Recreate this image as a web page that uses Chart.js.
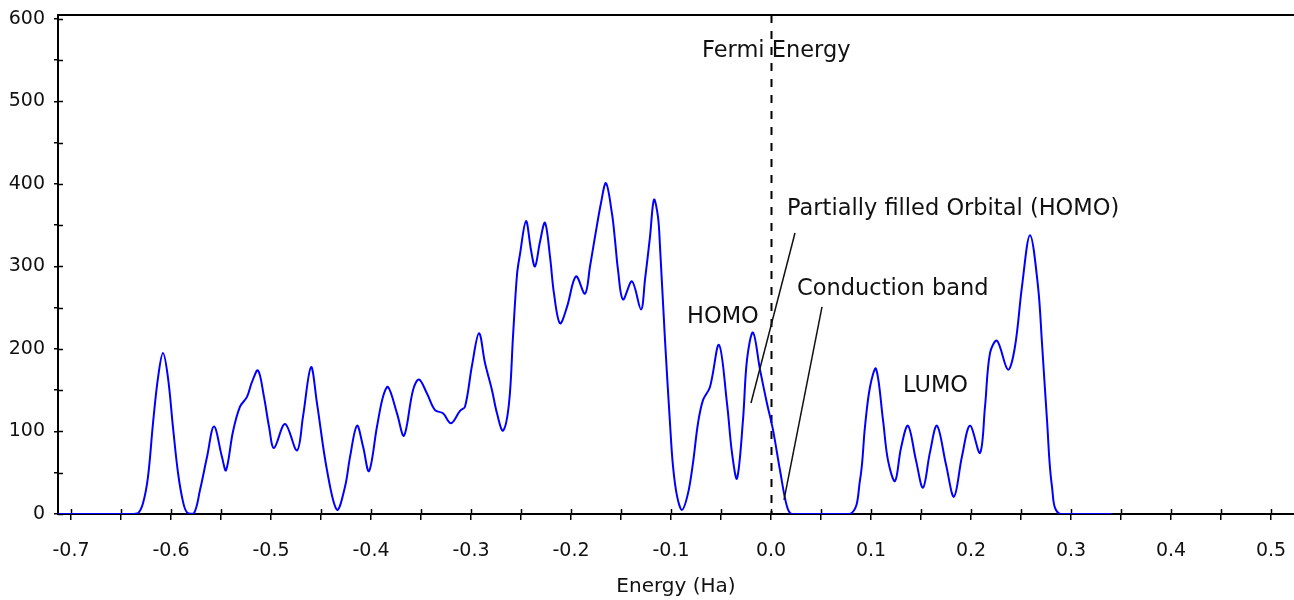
<!DOCTYPE html>
<html>
<head>
<meta charset="utf-8">
<script src="https://cdn.jsdelivr.net/npm/chart.js@4.4.1/dist/chart.umd.min.js"></script>
<style>
  html, body { margin: 0; padding: 0; background: #fff; }
  #wrap { width: 1294px; height: 600px; position: relative; }
</style>
</head>
<body>
<div id="wrap"><canvas id="dos"></canvas></div>
<script>
// Density of states: energy (Ha) and DOS
const energy = [
  -0.713, -0.640, -0.633, -0.628, -0.623, -0.618, -0.613, -0.608, -0.603, -0.598,
  -0.593, -0.588, -0.584, -0.577, -0.571, -0.564, -0.557, -0.549, -0.545, -0.538,
  -0.531, -0.524, -0.519, -0.513, -0.507, -0.502, -0.497, -0.486, -0.474, -0.468,
  -0.460, -0.454, -0.444, -0.434, -0.426, -0.421, -0.414, -0.408, -0.402, -0.394,
  -0.388, -0.383, -0.374, -0.367, -0.358, -0.352, -0.344, -0.336, -0.328, -0.320,
  -0.311, -0.306, -0.299, -0.292, -0.286, -0.279, -0.274, -0.268, -0.262, -0.258,
  -0.254, -0.251, -0.245, -0.240, -0.236, -0.231, -0.226, -0.221, -0.217, -0.211,
  -0.204, -0.195, -0.186, -0.181, -0.176, -0.170, -0.165, -0.159, -0.156, -0.153,
  -0.148, -0.139, -0.130, -0.126, -0.121, -0.117, -0.113, -0.111, -0.106, -0.101,
  -0.098, -0.094, -0.089, -0.083, -0.078, -0.073, -0.068, -0.061, -0.052, -0.044,
  -0.039, -0.034, -0.028, -0.024, -0.018, -0.011, -0.004, 0.002, 0.009, 0.016,
  0.021, 0.079, 0.089, 0.094, 0.099, 0.105, 0.112, 0.117, 0.124, 0.130,
  0.137, 0.145, 0.152, 0.159, 0.166, 0.175, 0.183, 0.191, 0.199, 0.209,
  0.214, 0.219, 0.226, 0.237, 0.244, 0.251, 0.259, 0.267, 0.271, 0.276,
  0.281, 0.289, 0.341
]
const dos = [
  0, 0, 1, 13, 45, 110, 165, 195, 165, 105,
  50, 15, 2, 1, 29, 69, 106, 69, 53, 100,
  130, 142, 160, 174, 142, 106, 80, 109, 77, 118,
  178, 134, 53, 5, 33, 69, 107, 82, 52, 106,
  142, 154, 122, 95, 150, 163, 146, 126, 122, 110,
  125, 130, 180, 219, 183, 150, 122, 101, 134, 215,
  290, 315, 355, 320, 300, 330, 353, 312, 267, 231,
  251, 288, 267, 300, 336, 377, 401, 364, 332, 296,
  260, 282, 248, 284, 336, 381, 360, 324, 211, 110,
  58, 22, 5, 25, 62, 110, 138, 154, 205, 134,
  74, 43, 114, 187, 220, 175, 134, 102, 53, 9,
  0, 0, 41, 106, 154, 176, 114, 65, 40, 80,
  107, 65, 32, 75, 107, 60, 21, 70, 107, 74,
  130, 195, 210, 175, 203, 276, 338, 276, 207, 114,
  33, 0, 0
]

const xTicks = [-0.7, -0.65, -0.6, -0.55, -0.5, -0.45, -0.4, -0.35, -0.3, -0.25, -0.2, -0.15, -0.1, -0.05,
  0, 0.05, 0.1, 0.15, 0.2, 0.25, 0.3, 0.35, 0.4, 0.45, 0.5]
const xMajor = [-0.7, -0.6, -0.5, -0.4, -0.3, -0.2, -0.1, 0, 0.1, 0.2, 0.3, 0.4, 0.5]
const xTickLabels = ['-0.7', '-0.6', '-0.5', '-0.4', '-0.3', '-0.2', '-0.1', '0.0', '0.1', '0.2', '0.3', '0.4', '0.5']
const yTicks = [0, 50, 100, 150, 200, 250, 300, 350, 400, 450, 500, 550, 600]
const yMajor = [0, 100, 200, 300, 400, 500, 600]
const yTickLabels = ['0', '100', '200', '300', '400', '500', '600']

const fermiEnergy = 0.0

// text notes and leader lines, in data units
const notes = [
  { text: 'Fermi Energy', x: -0.069, y: 554 },
  { text: 'Partially filled Orbital (HOMO)', x: 0.016, y: 362 },
  { text: 'Conduction band', x: 0.026, y: 265 },
  { text: 'HOMO', x: -0.084, y: 231.5 },
  { text: 'LUMO', x: 0.132, y: 148 }
]
const leaders = [
  [0.024, 340.6, -0.020, 134.5],
  [0.051, 251, 0.013, 17]
]

const font = 'DejaVu Sans'
const ink = '#111'

function labelFor (list, labels, v) {
  const k = list.findIndex(t => Math.abs(t - v) < 1e-9)
  return k >= 0 ? labels[k] : ''
}

const frame = {
  id: 'frame',
  beforeDatasetsDraw (chart) {
    const { ctx, chartArea: a, scales: { x, y } } = chart
    ctx.save()
    ctx.strokeStyle = '#000'
    ctx.lineWidth = 2
    ctx.beginPath()
    ctx.moveTo(a.left, a.top)
    ctx.lineTo(a.right, a.top)
    ctx.stroke()

    // tick marks cross the axis: draw the inner half
    ctx.lineWidth = 1.5
    ctx.beginPath()
    x.ticks.forEach(t => {
      const px = Math.round(x.getPixelForValue(t.value)) + 0.5
      ctx.moveTo(px, a.bottom)
      ctx.lineTo(px, a.bottom - 5)
    })
    y.ticks.forEach(t => {
      const py = Math.round(y.getPixelForValue(t.value)) + 0.5
      ctx.moveTo(a.left, py)
      ctx.lineTo(a.left + 5, py)
    })
    ctx.stroke()

    // Fermi level
    const fx = Math.round(x.getPixelForValue(fermiEnergy)) + 0.5
    ctx.lineWidth = 2
    ctx.setLineDash([8, 8])
    ctx.beginPath()
    ctx.moveTo(fx, a.top)
    ctx.lineTo(fx, a.bottom)
    ctx.stroke()
    ctx.restore()
  },
  afterDatasetsDraw (chart) {
    const { ctx, scales: { x, y } } = chart
    ctx.save()
    ctx.strokeStyle = ink
    ctx.lineWidth = 1.5
    leaders.forEach(([x1, y1, x2, y2]) => {
      ctx.beginPath()
      ctx.moveTo(x.getPixelForValue(x1), y.getPixelForValue(y1))
      ctx.lineTo(x.getPixelForValue(x2), y.getPixelForValue(y2))
      ctx.stroke()
    })
    ctx.fillStyle = ink
    ctx.font = '22.5px "' + font + '"'
    ctx.textAlign = 'left'
    ctx.textBaseline = 'alphabetic'
    notes.forEach(n => {
      ctx.fillText(n.text, x.getPixelForValue(n.x), y.getPixelForValue(n.y))
    })
    ctx.restore()
  }
}

const ctx = document.getElementById('dos').getContext('2d')
const chart = new Chart(ctx, {
  type: 'line',
  data: {
    datasets: [{
      data: energy.map((e, i) => ({ x: e, y: dos[i] })),
      borderColor: '#0000ff',
      borderWidth: 2,
      pointRadius: 0,
      fill: false,
      tension: 0.35
    }]
  },
  options: {
    responsive: true,
    maintainAspectRatio: false,
    animation: false,
    layout: { padding: { top: 15, right: 0, left: 0, bottom: 0 } },
    plugins: { legend: { display: false }, tooltip: { enabled: false } },
    scales: {
      x: {
        type: 'linear',
        min: -0.713,
        max: 0.523,
        afterBuildTicks: s => { s.ticks = xTicks.map(v => ({ value: v })) },
        afterFit: s => { s.height = 86; s.paddingLeft = 0; s.paddingRight = 0 },
        grid: { display: true, drawOnChartArea: false, drawTicks: true, tickLength: 6, color: '#000', lineWidth: 1.5 },
        border: { display: true, color: '#000', width: 2 },
        ticks: {
          autoSkip: false,
          maxRotation: 0,
          padding: 20,
          color: ink,
          font: { family: font, size: 19 },
          callback: v => labelFor(xMajor, xTickLabels, v)
        },
        title: {
          display: true,
          text: 'Energy (Ha)',
          color: ink,
          font: { family: font, size: 20 },
          padding: { top: 0, bottom: 1 }
        }
      },
      y: {
        min: 0,
        max: 604.8,
        afterBuildTicks: s => { s.ticks = yTicks.map(v => ({ value: v })) },
        afterFit: s => { s.width = 58; s.paddingTop = 0; s.paddingBottom = 0 },
        grid: { display: true, drawOnChartArea: false, drawTicks: true, tickLength: 4, color: '#000', lineWidth: 1.5 },
        border: { display: true, color: '#000', width: 2 },
        ticks: {
          padding: 9,
          color: ink,
          font: { family: font, size: 19 },
          callback: v => labelFor(yMajor, yTickLabels, v)
        }
      }
    }
  },
  plugins: [frame]
})
</script>
</body>
</html>
